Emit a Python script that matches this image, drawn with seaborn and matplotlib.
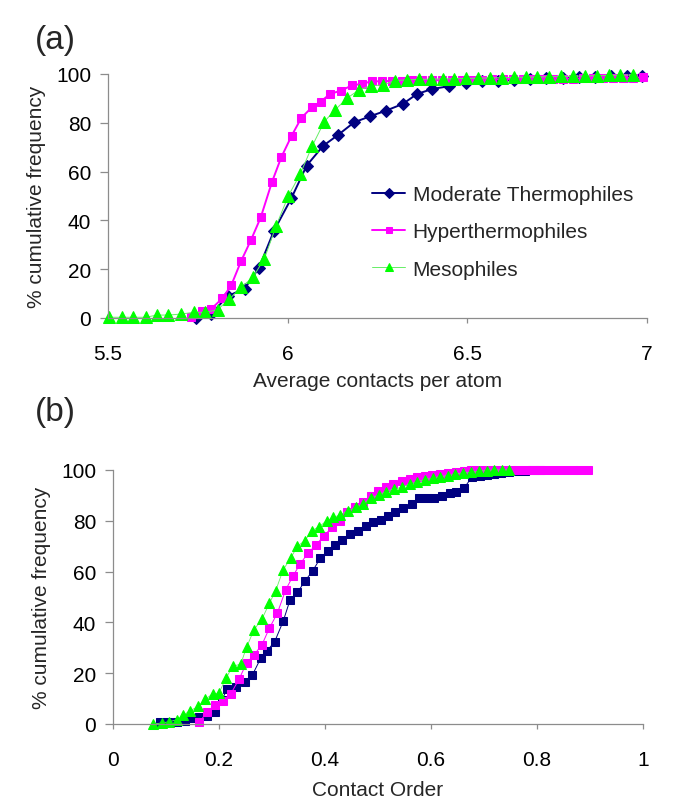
import matplotlib
matplotlib.use("Agg")
import matplotlib.pyplot as plt
from matplotlib.ticker import FormatStrFormatter
import seaborn as sns

sns.set_style("ticks")
plt.rcParams['font.family'] = ['Liberation Sans', 'DejaVu Sans']

# ---- panel (a): average contacts per atom ----
a_mod_x = [5.744, 5.787, 5.833, 5.880, 5.920, 5.962, 6.010, 6.053, 6.099, 6.140,
           6.185, 6.230, 6.274, 6.320, 6.360, 6.403, 6.450, 6.496, 6.540, 6.585,
           6.630, 6.675, 6.720, 6.765, 6.810, 6.855, 6.900, 6.945, 6.985]
a_mod_y = [0, 1.6, 9, 12, 20.5, 35.8, 49, 62.5, 70.6, 75,
           80.2, 82.7, 85, 87.7, 91.8, 93.9, 95, 96.3, 97, 97.3,
           97.6, 98, 98.2, 98.4, 98.6, 98.8, 99, 99.2, 99.3]

a_hyp_x = [5.730, 5.761, 5.787, 5.818, 5.843, 5.870, 5.898, 5.925, 5.956, 5.982,
           6.011, 6.038, 6.067, 6.092, 6.118, 6.148, 6.179, 6.207, 6.234, 6.262,
           6.290, 6.318, 6.346, 6.374, 6.402, 6.430, 6.458, 6.486, 6.514, 6.542,
           6.570, 6.598, 6.626, 6.654, 6.682, 6.710, 6.738, 6.766, 6.794, 6.822,
           6.850, 6.878, 6.906, 6.934, 6.962, 6.990]
a_hyp_y = [0.3, 3, 3.7, 8, 13.4, 23.2, 32, 41.2, 55.6, 65.8,
           74.7, 82, 86.3, 88.7, 91.8, 93.2, 95.3, 96, 97, 97,
           97.2, 97.3, 97.4, 97.4, 97.5, 97.5, 97.6, 97.6, 97.7, 97.7,
           97.8, 97.8, 97.9, 97.9, 98.0, 98.0, 98.0, 98.1, 98.1, 98.2,
           98.2, 98.3, 98.3, 98.4, 98.5, 98.6]

a_mes_x = [5.504, 5.538, 5.570, 5.605, 5.636, 5.668, 5.702, 5.738, 5.771, 5.805,
           5.838, 5.871, 5.903, 5.935, 5.968, 6.002, 6.035, 6.068, 6.102, 6.133,
           6.165, 6.198, 6.232, 6.265, 6.299, 6.332, 6.365, 6.398, 6.431, 6.464,
           6.497, 6.530, 6.563, 6.596, 6.629, 6.662, 6.695, 6.728, 6.761, 6.794,
           6.827, 6.860, 6.893, 6.926, 6.962]
a_mes_y = [0.3, 0.3, 0.3, 0.3, 1.2, 1.2, 1.6, 2.3, 2.3, 3.4,
           7.8, 12.6, 16.7, 24.2, 37.8, 50.1, 59, 70.4, 80.5, 85.4,
           90.1, 93.4, 95.2, 95.5, 97.3, 97.6, 97.8, 97.9, 98.0, 98.1,
           98.2, 98.3, 98.4, 98.5, 98.6, 98.7, 98.8, 98.9, 99.0, 99.1,
           99.2, 99.3, 99.4, 99.5, 99.6]

# ---- panel (b): contact order ----
b_mod_x = [0.089, 0.104, 0.120, 0.136, 0.148, 0.163, 0.178, 0.192, 0.205, 0.216,
           0.233, 0.249, 0.263, 0.279, 0.291, 0.305, 0.321, 0.334, 0.348, 0.362,
           0.377, 0.391, 0.405, 0.419, 0.433, 0.447, 0.463, 0.477, 0.490, 0.506,
           0.519, 0.532, 0.548, 0.564, 0.578, 0.592, 0.606, 0.620, 0.635, 0.648,
           0.663, 0.677, 0.692, 0.705, 0.718, 0.733, 0.748, 0.762, 0.777, 0.791,
           0.806]
b_mod_y = [0.7, 0.9, 0.7, 1.3, 2.2, 2.9, 3.3, 4.6, 9.5, 13.8,
           14.7, 16.7, 19.3, 26, 28.9, 32.4, 40.4, 48.8, 51.8, 56.2,
           60.4, 65.2, 68.2, 70.5, 72.6, 74.8, 76.1, 78.1, 79.4, 80.3,
           82.0, 83.6, 84.9, 86.5, 89.0, 89.0, 89.0, 89.6, 90.9, 91.2,
           93.1, 97.1, 97.8, 98.2, 98.4, 98.8, 99.2, 99.5, 99.7, 99.9,
           100]

b_hyp_x = [0.163, 0.178, 0.192, 0.207, 0.222, 0.238, 0.252, 0.266, 0.281, 0.295,
           0.310, 0.326, 0.340, 0.353, 0.368, 0.383, 0.398, 0.413, 0.428, 0.442,
           0.457, 0.471, 0.486, 0.500, 0.515, 0.529, 0.545, 0.560, 0.574, 0.588,
           0.602, 0.617, 0.632, 0.647, 0.662, 0.676, 0.691, 0.706, 0.720, 0.735,
           0.750, 0.764, 0.779, 0.794, 0.808, 0.823, 0.838, 0.852, 0.867, 0.882,
           0.897]
b_hyp_y = [0.7, 4.9, 7.5, 9.2, 11.8, 17.7, 24, 27.2, 31.2, 37.7,
           43.6, 52.9, 58.4, 63, 67.3, 70.5, 74.1, 77.4, 80.0, 83.5,
           85.5, 87.5, 89.8, 91.8, 93.2, 94.5, 95.8, 96.6, 97.1, 97.6,
           98.0, 98.6, 99.0, 99.4, 99.7, 99.9, 100, 100, 100, 100,
           100, 100, 100, 100, 100, 100, 100, 100, 100, 100,
           100]

b_mes_x = [0.076, 0.092, 0.106, 0.121, 0.133, 0.145, 0.161, 0.174, 0.188, 0.200,
           0.213, 0.226, 0.241, 0.252, 0.266, 0.281, 0.295, 0.307, 0.321, 0.335,
           0.348, 0.362, 0.375, 0.389, 0.403, 0.416, 0.428, 0.444, 0.459, 0.472,
           0.486, 0.501, 0.516, 0.531, 0.545, 0.560, 0.574, 0.588, 0.603, 0.617,
           0.632, 0.646, 0.661, 0.675, 0.690, 0.705, 0.719, 0.734, 0.748]
b_mes_y = [0, 0.4, 0.9, 1.7, 3.5, 5.2, 6.9, 9.8, 11.8, 12.2,
           18, 22.7, 23.6, 30.2, 37.1, 41.3, 47.5, 52.5, 60.7, 65.2,
           70, 72.2, 76.1, 77.7, 80, 81.3, 82.3, 84, 85.3, 86.6,
           88.8, 90.2, 91.5, 92.5, 93.2, 94.5, 95.4, 96.2, 96.8, 97.4,
           97.8, 98.4, 98.8, 99.1, 99.5, 99.8, 100, 100, 100]

labels = ['Moderate Thermophiles', 'Hyperthermophiles', 'Mesophiles']
navy = '#000080'
magenta = '#FF00FF'
green = '#00FF00'
grey = '#8c8c8c'

fig = plt.figure(figsize=(6.85, 8.12), dpi=100)
ax_a = fig.add_axes([108 / 685, 1 - 319 / 812, 539 / 685, 244 / 812])
ax_b = fig.add_axes([113 / 685, 1 - 725 / 812, 530 / 685, 254 / 812])

common = dict(estimator=None, sort=False, clip_on=False, legend=False)

sns.lineplot(x=a_mod_x, y=a_mod_y, ax=ax_a, color=navy, marker='D', markersize=6.5,
             markeredgecolor=navy, linewidth=1.4, label=labels[0], **common)
sns.lineplot(x=a_hyp_x, y=a_hyp_y, ax=ax_a, color=magenta, marker='s', markersize=6,
             markeredgecolor=magenta, linewidth=1.4, label=labels[1], **common)
sns.lineplot(x=a_mes_x, y=a_mes_y, ax=ax_a, color='#66ee66', marker='^', markersize=8,
             markerfacecolor=green, markeredgecolor=green, linewidth=0.7,
             label=labels[2], **common)

sns.lineplot(x=b_mod_x, y=b_mod_y, ax=ax_b, color=navy, marker='s', markersize=6,
             markeredgecolor=navy, linewidth=0.7, **common)
sns.lineplot(x=b_hyp_x, y=b_hyp_y, ax=ax_b, color=magenta, marker='s', markersize=6,
             markeredgecolor=magenta, linewidth=0.7, **common)
sns.lineplot(x=b_mes_x, y=b_mes_y, ax=ax_b, color='#66ee66', marker='^', markersize=7.5,
             markerfacecolor=green, markeredgecolor=green, linewidth=0.6, **common)

for ax in (ax_a, ax_b):
    ax.set_ylim(0, 100)
    ax.set_yticks([0, 20, 40, 60, 80, 100])
    sns.despine(ax=ax)
    for side in ('left', 'bottom'):
        ax.spines[side].set_color(grey)
        ax.spines[side].set_linewidth(0.9)
    ax.tick_params(axis='both', colors=grey, labelcolor='black', labelsize=15, width=0.9)
    ax.tick_params(axis='y', length=6, pad=6)
    ax.tick_params(axis='x', length=3.6, pad=15)
    ax.xaxis.set_major_formatter(FormatStrFormatter('%g'))
    ax.set_ylabel('% cumulative frequency', fontsize=15, labelpad=7)
    ax.set_facecolor('white')

ax_a.set_xlim(5.5, 7)
ax_a.set_xticks([5.5, 6, 6.5, 7])
ax_a.set_xlabel('Average contacts per atom', fontsize=15, labelpad=6)

ax_b.set_xlim(0, 1)
ax_b.set_xticks([0, 0.2, 0.4, 0.6, 0.8, 1])
ax_b.set_xlabel('Contact Order', fontsize=15, labelpad=8)

ax_a.legend(loc='upper left', bbox_to_anchor=(0.49, 0.545), frameon=False, fontsize=15,
            handlelength=1.6, handletextpad=0.35, labelspacing=0.88, borderpad=0,
            borderaxespad=0, markerscale=0.8)

fig.text(35 / 685, 1 - 40 / 812, '(a)', fontsize=24, va='center', ha='left')
fig.text(35 / 685, 1 - 412 / 812, '(b)', fontsize=24, va='center', ha='left')

fig.savefig('out.png', dpi=100, facecolor='white')
